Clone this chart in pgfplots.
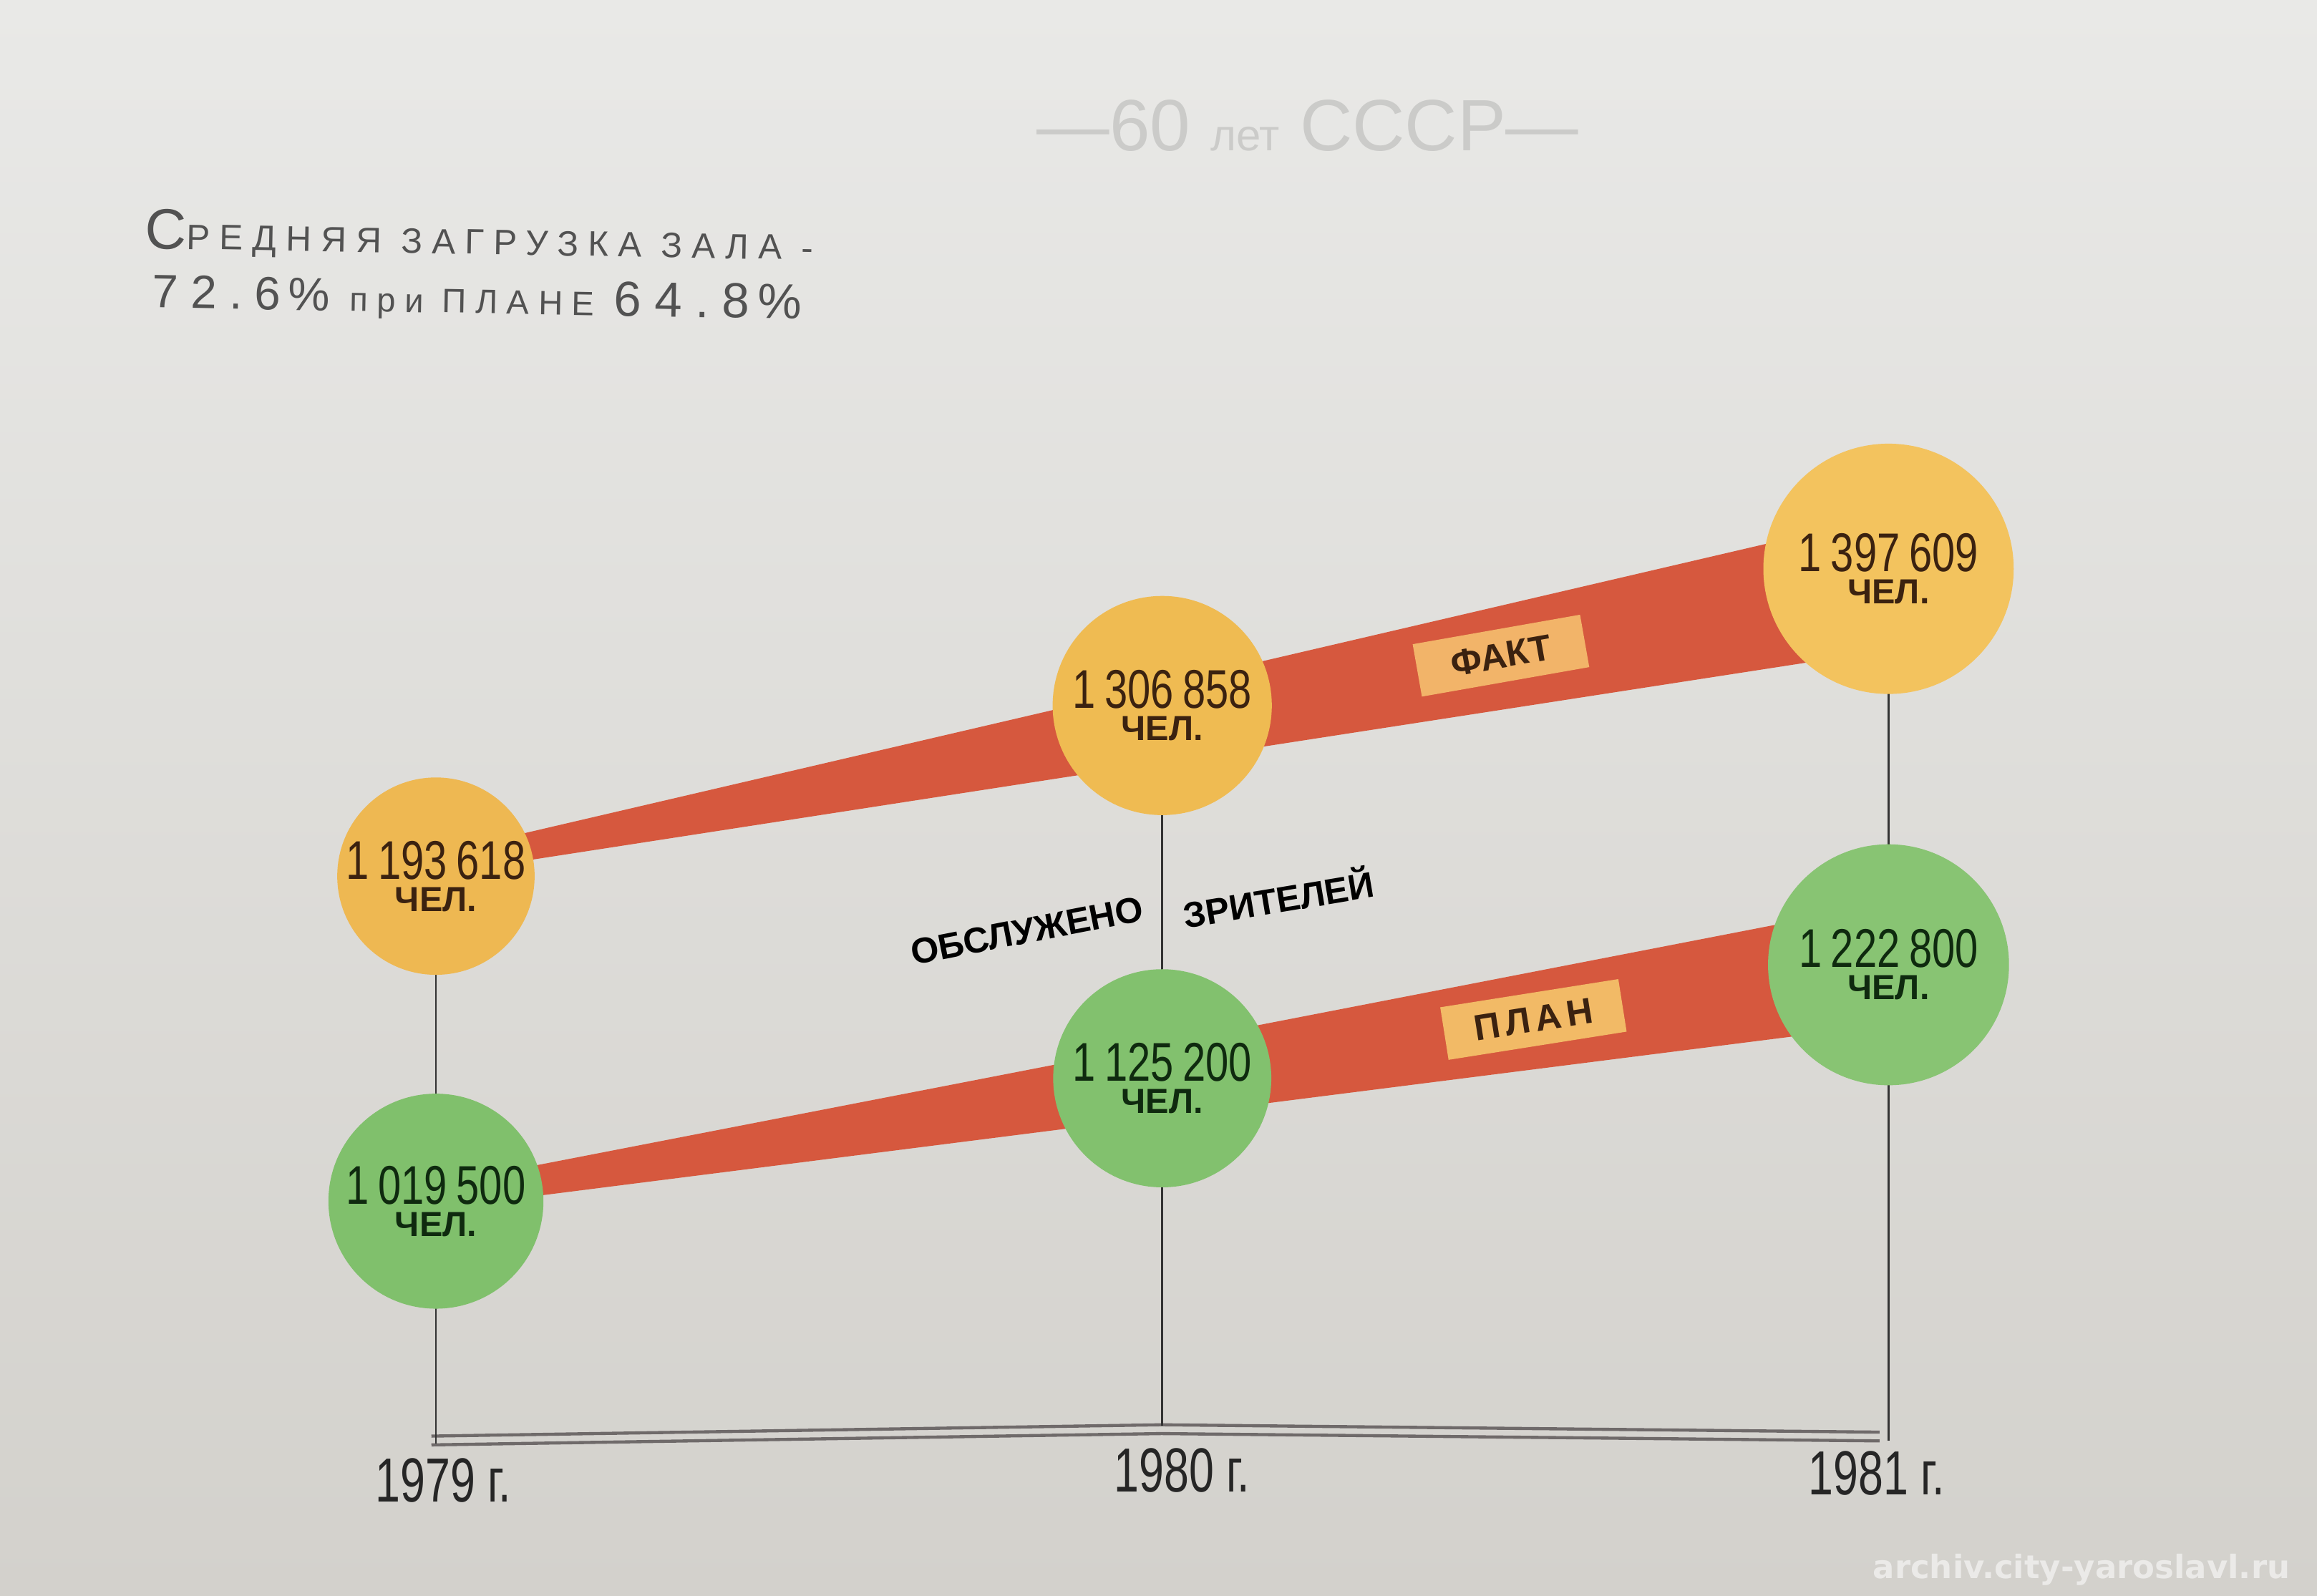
\documentclass[border=0pt]{standalone}
\usepackage{fontspec}
\setmainfont{Liberation Sans}
\newfontfamily\numfont[FakeStretch=0.76]{Liberation Sans}
\newfontfamily\yearfont[FakeStretch=0.72]{Liberation Sans}
\newfontfamily\handfont[LetterSpace=27]{Liberation Sans}
\newfontfamily\wmfont{DejaVu Sans}
\usepackage{pgfplots}
\pgfplotsset{compat=1.18}

\definecolor{paperTop}{HTML}{E9E9E7}
\definecolor{paperBot}{HTML}{D3D1CC}
\definecolor{band}{HTML}{D6583E}
\definecolor{factA}{HTML}{EEB852}
\definecolor{factB}{HTML}{EFBB52}
\definecolor{factC}{HTML}{F3C35E}
\definecolor{planA}{HTML}{80C06C}
\definecolor{planB}{HTML}{82C16E}
\definecolor{planC}{HTML}{88C473}
\definecolor{boxF}{HTML}{F2B469}
\definecolor{boxP}{HTML}{F2BA66}
\definecolor{brownTxt}{HTML}{3B2210}
\definecolor{greenTxt}{HTML}{0F2A0F}
\definecolor{baseCol}{HTML}{6F6A6A}

\pgfplotsset{
  poster/.style={width=15.68cm, height=10.8cm, scale only axis, hide axis, clip=false,
    xmin=1978.3998, xmax=1981.5900, at={(0,0)}, anchor=south west},
  disc/.style 2 args={only marks, mark=*, mark size=#1, color=#2,
    point meta=explicit symbolic,
    nodes near coords={{\numfont\fontsize{10.5}{6}\selectfont\pgfplotspointmeta}\\{\bfseries ЧЕЛ.}}},
  onFact/.style={nodes near coords style={anchor=center, align=center, text=brownTxt,
    font=\fontsize{6.7}{6.2}\selectfont}},
  onPlan/.style={nodes near coords style={anchor=center, align=center, text=greenTxt,
    font=\fontsize{6.7}{6.2}\selectfont}},
}

\begin{document}
\begin{tikzpicture}
\path[use as bounding box] (0,0) rectangle (15.68,10.8);
\shade[top color=paperTop, bottom color=paperBot] (0,0) rectangle (15.68,10.8);

% fact series: y scaled so that the three discs sit where the poster has them
\begin{axis}[poster, ymin=716004, ymax=1775189]
% headings
\node[anchor=center, text=black!13!paperTop, font=\fontsize{14}{14}\selectfont]
  at (rel axis cs:0.5644,0.9213) {—60 {\fontsize{8.5}{8.5}\selectfont лет} СССР—};
\node[anchor=north west, rotate=-1, inner sep=0pt, align=left, text=black!68,
  font=\handfont\fontsize{6.8}{11.4}\selectfont]
  at (rel axis cs:0.0625,0.8700)
  {{\fontsize{11}{11}\selectfont С}РЕДНЯЯ ЗАГРУЗКА ЗАЛА -\\
   \hspace*{1.5pt}{\fontsize{9}{9}\selectfont 72.6\,\%} {\fontsize{6.5}{6.5}\selectfont при ПЛАНЕ} {\fontsize{9.5}{9.5}\selectfont 64.8\,\%}};
\node[anchor=base east, text=white!55!paperBot, font=\wmfont\bfseries\fontsize{6.2}{6.2}\selectfont]
  at (rel axis cs:0.9962,0.0110) {archiv.city-yaroslavl.ru};

% time axis (double line) and years
\draw[baseCol, line width=0.6pt] (rel axis cs:0.1862,0.1000) -- (rel axis cs:0.5013,0.1071) -- (rel axis cs:0.8112,0.1025);
\draw[baseCol, line width=0.6pt] (rel axis cs:0.1862,0.0945) -- (rel axis cs:0.5013,0.1016) -- (rel axis cs:0.8112,0.0970);
\node[text=black!85, font=\yearfont\fontsize{12}{12}\selectfont] at (rel axis cs:0.1913,0.0722) {1979 г.};
\node[text=black!85, font=\yearfont\fontsize{12}{12}\selectfont] at (rel axis cs:0.5102,0.0787) {1980 г.};
\node[text=black!85, font=\yearfont\fontsize{12}{12}\selectfont] at (rel axis cs:0.8099,0.0769) {1981 г.};

% drop lines from the fact discs to the time axis
\addplot[black!80, line width=0.35pt] coordinates {(1979,1193618) (1979,817019)};
\addplot[black!80, line width=0.35pt] coordinates {(1980,1306858) (1980,828788)};
\addplot[black!80, line width=0.35pt] coordinates {(1981,1397609) (1981,818981)};

% widening band
\addplot[fill=band, draw=none] coordinates {(1979,1208427) (1981,1433111) (1981,1343767) (1979,1194697)} -- cycle;

\addplot[disc={18.8pt}{factA}, onFact] coordinates {(1979,1193618) [1\,193\,618]};
\addplot[disc={20.9pt}{factB}, onFact] coordinates {(1980,1306858) [1\,306\,858]};
\addplot[disc={23.9pt}{factC}, onFact] coordinates {(1981,1397609) [1\,397\,609]};

\node[fill=boxF, rotate=10, minimum width=11.5mm, minimum height=3.6mm, inner sep=0pt,
  text=brownTxt, font=\bfseries\fontsize{7}{7}\selectfont] at (rel axis cs:0.6478,0.5891) {ФАКТ};
\node[rotate=11, text=black, font=\bfseries\fontsize{6.9}{6.9}\selectfont] at (rel axis cs:0.4432,0.4167) {ОБСЛУЖЕНО};
\node[rotate=9.5, text=black, font=\bfseries\fontsize{6.9}{6.9}\selectfont] at (rel axis cs:0.5517,0.4380) {ЗРИТЕЛЕЙ};
\end{axis}

% plan series, its own vertical scale
\begin{axis}[poster, ymin=680243, ymax=2052518]
\addplot[fill=band, draw=none] coordinates {(1979,1033604) (1981,1276039) (1981,1171594) (1979,1013020)} -- cycle;

\addplot[disc={20.5pt}{planA}, onPlan] coordinates {(1979,1019500) [1\,019\,500]};
\addplot[disc={20.8pt}{planB}, onPlan] coordinates {(1980,1125200) [1\,125\,200]};
\addplot[disc={23.0pt}{planC}, onPlan] coordinates {(1981,1222800) [1\,222\,800]};

\node[fill=boxP, rotate=9, minimum width=12.2mm, minimum height=3.6mm, inner sep=0pt,
  text=brownTxt, font=\bfseries\fontsize{7}{7}\selectfont] at (rel axis cs:0.6618,0.3611)
  {\addfontfeature{LetterSpace=14}ПЛАН};
\end{axis}
\end{tikzpicture}
\end{document}
